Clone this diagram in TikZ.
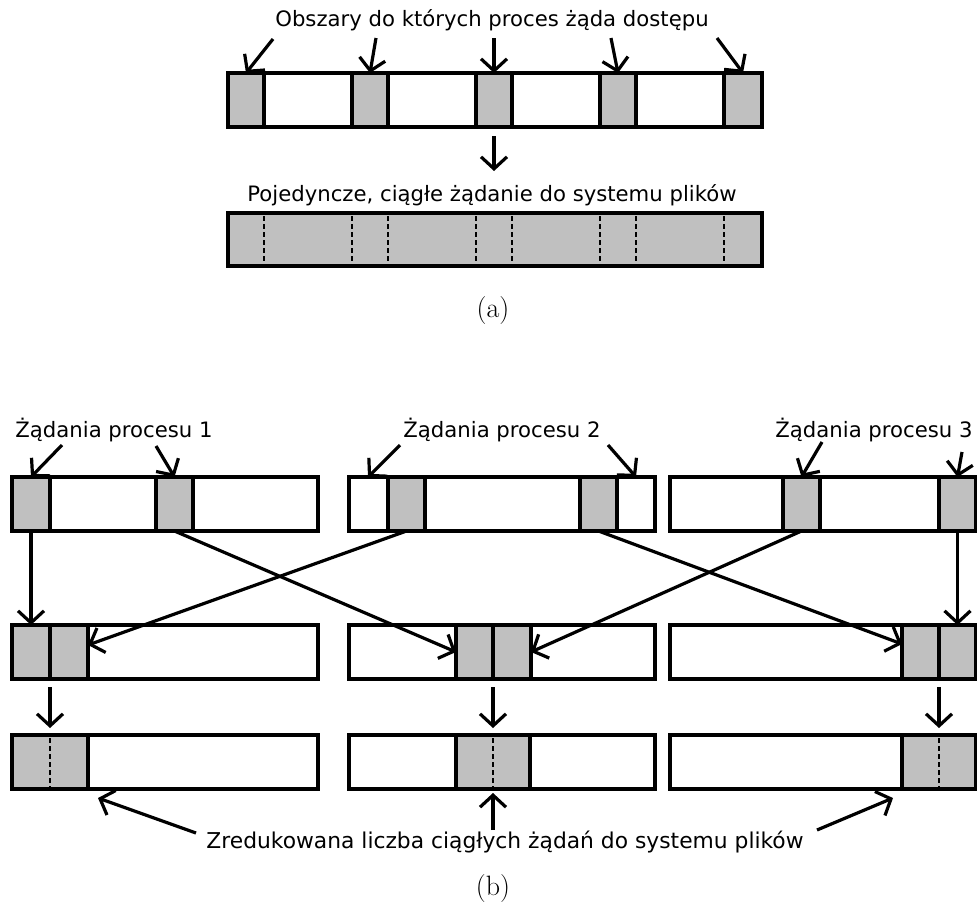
\documentclass[tikz,border=0pt]{standalone}
\usepackage{fontspec}
\setsansfont{DejaVu Sans}
\usetikzlibrary{arrows.meta,calc}
\definecolor{cellgray}{RGB}{192,192,192}
\tikzset{
  box/.style={draw, line width=3.6pt, fill=white, inner sep=0pt, outer sep=0pt,
              anchor=north west, minimum height=54pt},
  full/.style={box, fill=cellgray},
  arr/.style={line width=3.2pt, -{Straight Barb[length=12pt, width=26pt, line width=3.2pt]}},
  sep/.style={line width=2pt, dash pattern=on 4.5pt off 3.5pt},
  lbl/.style={font=\sffamily\fontsize{21.2}{24}\selectfont, inner sep=0pt},
  subcap/.style={font=\fontsize{28}{32}\selectfont, inner sep=0pt}
}
\begin{document}
\begin{tikzpicture}[x=1pt, y=-1pt]
\useasboundingbox (0,0) rectangle (977,911);

% ---------- (a): scattered regions merged into one request ----------
\node[lbl] (obsz) at (492,20) {Obszary do których proces żąda dostępu};
\node[box, minimum width=534pt] (bar) at (228,73) {};
\node[full, minimum width=36pt] (g1) at (228,73) {};
\node[full, minimum width=36pt] (g2) at (352,73) {};
\node[full, minimum width=36pt] (g3) at (476,73) {};
\node[full, minimum width=36pt] (g4) at (600,73) {};
\node[full, minimum width=38pt] (g5) at (724,73) {};

\coordinate (t1) at (273,39);
\coordinate (t2) at (376,38);
\coordinate (t3) at (494,38);
\coordinate (t4) at (611,38);
\coordinate (t5) at (717,38);
\draw[arr] (t1) -- (g1.north);
\draw[arr] (t2) -- (g2.north);
\draw[arr] (t3) -- (g3.north);
\draw[arr] (t4) -- (g4.north);
\draw[arr] (t5) -- (g5.north);

\coordinate (d0) at (494,136);
\node[lbl] (poj) at (492,195) {Pojedyncze, ciągłe żądanie do systemu plików};
\node[full, minimum width=534pt, minimum height=53pt] (one) at (228,213) {};
\draw[arr] (d0) -- (494,171);
\foreach \x in {264,352,388,476,512,600,636,724}
  \draw[sep] (\x,216) -- (\x,264);

\node[subcap] (capa) at (493,311) {(a)};

% ---------- (b): three processes, requests exchanged ----------
\node[lbl] (p1) at (114,430) {Żądania procesu 1};
\node[lbl] (p2) at (502,430) {Żądania procesu 2};
\node[lbl] (p3) at (874,430) {Żądania procesu 3};

% row 1
\node[box, minimum width=306pt] (r1a) at (12,477) {};
\node[box, minimum width=306pt] (r1b) at (349,477) {};
\node[box, minimum width=306pt] (r1c) at (670,477) {};
\node[full, minimum width=38pt] (r1a1) at (12,477) {};
\node[full, minimum width=37pt] (r1a2) at (156,477) {};
\node[full, minimum width=37pt] (r1b1) at (388,477) {};
\node[full, minimum width=37pt] (r1b2) at (580,477) {};
\node[full, minimum width=37pt] (r1c1) at (783,477) {};
\node[full, minimum width=37pt] (r1c2) at (939,477) {};

% row 2
\node[box, minimum width=306pt] (r2a) at (12,625) {};
\node[box, minimum width=306pt] (r2b) at (349,625) {};
\node[box, minimum width=306pt] (r2c) at (670,625) {};
\node[full, minimum width=38pt] (r2a1) at (12,625) {};
\node[full, minimum width=38pt] (r2a2) at (50,625) {};
\node[full, minimum width=37pt] (r2b1) at (456,625) {};
\node[full, minimum width=38pt] (r2b2) at (493,625) {};
\node[full, minimum width=37pt] (r2c1) at (902,625) {};
\node[full, minimum width=37pt] (r2c2) at (939,625) {};

% row 3
\node[box, minimum width=306pt] (r3a) at (12,735) {};
\node[box, minimum width=306pt] (r3b) at (349,735) {};
\node[box, minimum width=306pt] (r3c) at (670,735) {};
\node[full, minimum width=76pt] (r3a1) at (12,735) {};
\node[full, minimum width=74pt] (r3b1) at (456,735) {};
\node[full, minimum width=74pt] (r3c1) at (902,735) {};
\draw[sep] (50,738) -- (50,787);
\draw[sep] (493,738) -- (493,787);
\draw[sep] (939,738) -- (939,787);

% labels to row 1
\coordinate (q1) at (62,445);
\coordinate (q2) at (156,446);
\coordinate (q3) at (400,445);
\coordinate (q4) at (608,445);
\coordinate (q5) at (822,442);
\coordinate (q6) at (962,452);
\draw[arr] (q1) -- (r1a1.north);
\draw[arr] (q2) -- (r1a2.north);
\draw[arr] (q3) -- ($(r1b.north west)+(19,0)$);
\draw[arr] (q4) -- ($(r1b.north east)+(-19,0)$);
\draw[arr] (q5) -- (r1c1.north);
\draw[arr] (q6) -- (r1c2.north);

% row 1 to row 2
\draw[arr] ([yshift=-1pt]r1a1.south) -- (r2a1.north);
\draw[arr] (r1a2.south) -- (r2b1.west);
\draw[arr] (r1b1.south) -- ([yshift=7pt]r2a2.east);
\draw[arr] (r1b2.south) -- ([yshift=8pt]r2c1.west);
\draw[arr] (r1c1.south) -- (r2b2.east);
\draw[arr] ([yshift=-1pt]r1c2.south) -- (r2c2.north);

% row 2 to row 3 (straight down from the joint of the two cells)
\draw[arr] ([yshift=-8pt]r2a1.south east) -- ([yshift=7pt]r3a1.north -| r2a1.south east);
\draw[arr] ([yshift=-8pt]r2b1.south east) -- ([yshift=7pt]r3b1.north -| r2b1.south east);
\draw[arr] ([yshift=-8pt]r2c1.south east) -- ([yshift=7pt]r3c1.north -| r2c1.south east);

% bottom label
\node[lbl, font=\sffamily\fontsize{21.8}{24}\selectfont] (red) at (505,842) {Zredukowana liczba ciągłych żądań do systemu plików};
\coordinate (b1) at (196,833);
\coordinate (b2) at (493,830);
\coordinate (b3) at (817,830);
\draw[arr] (b1) -- ($(r3a1.south east)+(10,9)$);
\draw[arr] (b2) -- ([yshift=-4pt]r3b1.south -| b2);
\draw[arr] (b3) -- ($(r3c1.south west)+(-9,9)$);

\node[subcap] (capb) at (493,888) {(b)};
\end{tikzpicture}
\end{document}
